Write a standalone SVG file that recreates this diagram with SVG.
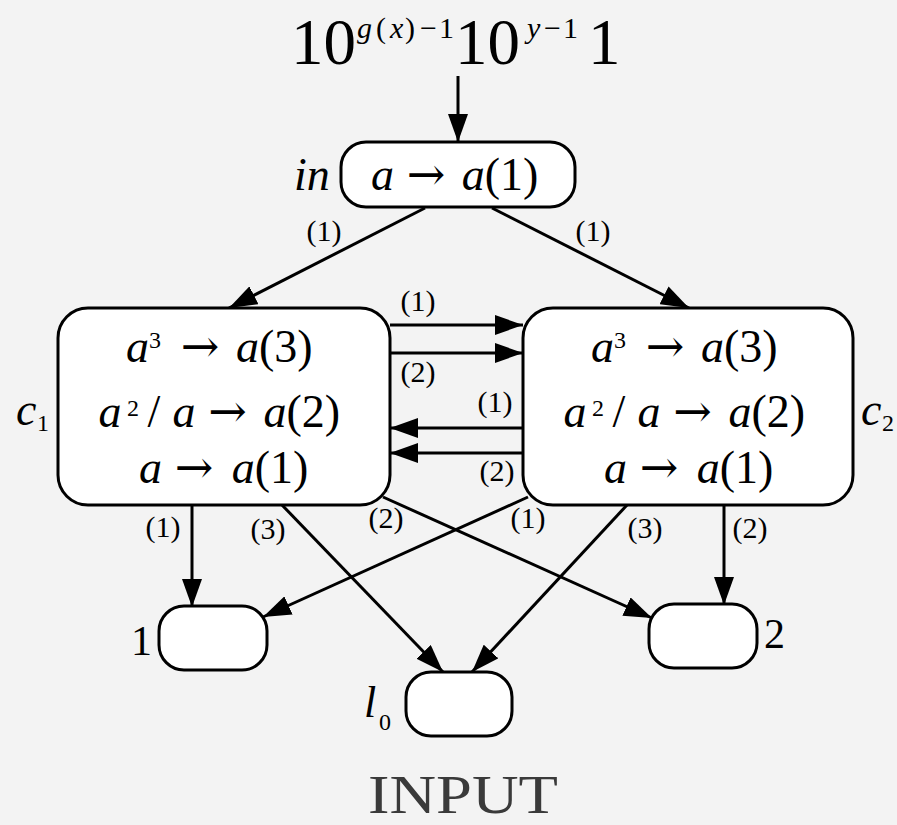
<svg xmlns="http://www.w3.org/2000/svg" width="897" height="825" viewBox="0 0 897 825">
<defs>
<marker id="ah" markerUnits="userSpaceOnUse" markerWidth="28" markerHeight="20" refX="28" refY="10" orient="auto" viewBox="0 0 28 20">
<path d="M0,0 L28,10 L0,20 z" fill="#000"/>
</marker>
</defs>
<style>
text{fill:#000;font-family:"Liberation Serif","Times New Roman",serif}
.r{font-size:46px;text-anchor:middle}
.i{font-style:italic}
.s{font-size:24px}
.ar{font-family:"DejaVu Serif",serif;font-size:46px}
.l{font-size:30px;text-anchor:middle}
.box{fill:#fff;stroke:#000;stroke-width:3}
.e{stroke:#000;stroke-width:3;fill:none;marker-end:url(#ah)}
</style>
<rect x="0" y="0" width="897" height="825" fill="#f3f3f3"/>

<g id="input-string">
<text font-size="65"><tspan x="291" y="64">10</tspan><tspan x="455" y="64">10</tspan><tspan x="588" y="64">1</tspan></text>
<text font-size="30"><tspan x="357" y="38" class="i">g</tspan><tspan x="376" y="38">(</tspan><tspan x="390" y="38" class="i">x</tspan><tspan x="405" y="38">)</tspan><tspan x="420" y="38">−</tspan><tspan x="439" y="38">1</tspan><tspan x="527" y="38" class="i">y</tspan><tspan x="544" y="38">−</tspan><tspan x="563" y="38">1</tspan></text>
</g>

<g id="connectors">
<line class="e" x1="458" y1="76" x2="458" y2="142"/>
<line class="e" x1="425" y1="208" x2="229" y2="308"/>
<line class="e" x1="492" y1="208" x2="689" y2="308"/>
<line class="e" x1="390" y1="325" x2="523" y2="325"/>
<line class="e" x1="390" y1="353" x2="523" y2="353"/>
<line class="e" x1="523" y1="428" x2="390" y2="428"/>
<line class="e" x1="523" y1="453" x2="390" y2="453"/>
<line class="e" x1="192" y1="505" x2="192" y2="607"/>
<line class="e" x1="282" y1="505" x2="443" y2="672"/>
<line class="e" x1="383" y1="497" x2="652" y2="618"/>
<line class="e" x1="528" y1="497" x2="263" y2="617"/>
<line class="e" x1="627" y1="505" x2="472" y2="672"/>
<line class="e" x1="724" y1="505" x2="724" y2="605"/>
<text class="l"><tspan x="324" y="241">(1)</tspan><tspan x="593" y="241">(1)</tspan><tspan x="418" y="311">(1)</tspan><tspan x="418" y="382">(2)</tspan><tspan x="495" y="412">(1)</tspan><tspan x="497" y="481">(2)</tspan><tspan x="163" y="537">(1)</tspan><tspan x="268" y="539">(3)</tspan><tspan x="386" y="528">(2)</tspan><tspan x="528" y="528">(1)</tspan><tspan x="645" y="538">(3)</tspan><tspan x="750" y="538">(2)</tspan></text>
</g>

<g id="node-in">
<rect class="box" x="341" y="142" width="234" height="65" rx="25"/>
<text class="i" font-size="46" x="294" y="190">in</text>
<text class="r"><tspan x="382.5" y="190" class="i">a</tspan><tspan x="426" y="190" class="ar">→</tspan><tspan x="500" y="190"><tspan class="i">a</tspan>(1)</tspan></text>
</g>

<g id="node-c1">
<rect class="box" x="58" y="308" width="332" height="197" rx="30"/>
<text class="i" font-size="46" x="16" y="425">c</text>
<text font-size="24" x="37" y="431">1</text>
<text class="r">
<tspan x="137.5" y="362" class="i">a</tspan><tspan x="155" y="348" class="s">3</tspan><tspan x="200" y="362" class="ar">→</tspan><tspan x="280" y="362"><tspan class="i">a</tspan>(3)</tspan>
<tspan x="110" y="427" class="i">a</tspan><tspan x="133" y="416" class="s">2</tspan><tspan x="154" y="427">/</tspan><tspan x="184" y="427" class="i">a</tspan><tspan x="227.5" y="427" class="ar">→</tspan><tspan x="307.5" y="427"><tspan class="i">a</tspan>(2)</tspan>
<tspan x="150.5" y="483" class="i">a</tspan><tspan x="194" y="483" class="ar">→</tspan><tspan x="270" y="483"><tspan class="i">a</tspan>(1)</tspan>
</text>
</g>

<g id="node-c2">
<rect class="box" x="523" y="308" width="330" height="197" rx="30"/>
<text class="i" font-size="46" x="861" y="425">c</text>
<text font-size="24" x="882" y="431">2</text>
<text class="r">
<tspan x="602.5" y="362" class="i">a</tspan><tspan x="620" y="348" class="s">3</tspan><tspan x="665" y="362" class="ar">→</tspan><tspan x="745" y="362"><tspan class="i">a</tspan>(3)</tspan>
<tspan x="575" y="427" class="i">a</tspan><tspan x="598" y="416" class="s">2</tspan><tspan x="619" y="427">/</tspan><tspan x="649" y="427" class="i">a</tspan><tspan x="692.5" y="427" class="ar">→</tspan><tspan x="772.5" y="427"><tspan class="i">a</tspan>(2)</tspan>
<tspan x="615.5" y="483" class="i">a</tspan><tspan x="659" y="483" class="ar">→</tspan><tspan x="735" y="483"><tspan class="i">a</tspan>(1)</tspan>
</text>
</g>

<g id="node-1">
<rect class="box" x="159" y="606" width="108" height="64" rx="25"/>
<text font-size="42" x="131" y="655">1</text>
</g>

<g id="node-2">
<rect class="box" x="649" y="604" width="108" height="64" rx="25"/>
<text font-size="42" x="764" y="648">2</text>
</g>

<g id="node-l0">
<rect class="box" x="406" y="672" width="106" height="64" rx="25"/>
<text class="i" font-size="44" x="364" y="717">l</text>
<text font-size="24" x="379" y="730">0</text>
</g>

<text x="368" y="813" font-size="55" style="fill:#3a3a3a" textLength="190" lengthAdjust="spacingAndGlyphs">INPUT</text>
</svg>
